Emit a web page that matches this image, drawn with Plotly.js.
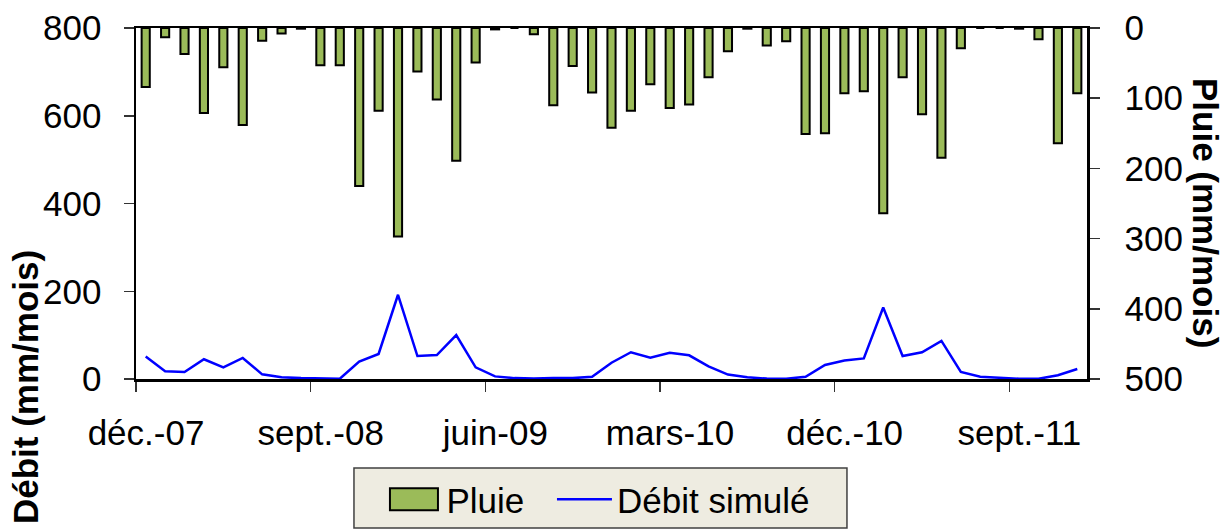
<!DOCTYPE html>
<html>
<head>
<meta charset="utf-8">
<script src="https://cdn.plot.ly/plotly-3.0.1.min.js"></script>
<style>
  html, body { margin: 0; padding: 0; background: #fff; }
  #chart { width: 1228px; height: 531px; }
</style>
</head>
<body>
<div id="chart"></div>
<script>
// Months (déc.-07 .. déc.-11)
const months = [
  "déc.-07","janv.-08","févr.-08","mars-08","avr.-08","mai-08","juin-08","juil.-08","août-08","sept.-08","oct.-08","nov.-08",
  "déc.-08","janv.-09","févr.-09","mars-09","avr.-09","mai-09","juin-09","juil.-09","août-09","sept.-09","oct.-09","nov.-09",
  "déc.-09","janv.-10","févr.-10","mars-10","avr.-10","mai-10","juin-10","juil.-10","août-10","sept.-10","oct.-10","nov.-10",
  "déc.-10","janv.-11","févr.-11","mars-11","avr.-11","mai-11","juin-11","juil.-11","août-11","sept.-11","oct.-11","nov.-11",
  "déc.-11"
];
// Rainfall (mm/month), right reversed axis
const pluie = [84,13,37,121,56,138,18,8,1,53,53,225,
               118,297,62,102,189,49,2,0,9,110,54,92,
               142,118,80,114,109,70,33,1,25,19,151,150,
               93,90,264,70,123,185,29,0,0,1,16,164,
               93];
// Simulated discharge (mm/month), left axis
const debit = [51,17.5,16,45,26.6,48,10.6,3.8,2,1,0.5,39.5,
               57,192,52.4,54.7,100,26.6,6,2,1,2,2,5,
               37,61,48.6,60,54,29,10,3.8,1,0.5,5,32,
               42,47,163,52.4,61,87,16,5,2,0.5,0.5,8.4,
               22.8];
const tickLabels = ["déc.-07","sept.-08","juin-09","mars-10","déc.-10","sept.-11"];

const xIdx = months.map((m, i) => i);
const tickPos = tickLabels.map(l => months.indexOf(l) - 0.5);

const FONT = "'Liberation Sans', Arial, sans-serif";
const BAR_COLOR = '#9BBB59';

const traces = [
  {
    type: 'bar', name: 'Pluie', x: xIdx, y: pluie, yaxis: 'y2',
    width: 0.42, legend: 'legend',
    marker: { color: BAR_COLOR, line: { color: '#000000', width: 2 } }
  },
  {
    type: 'scatter', mode: 'lines', name: 'Débit simulé', x: xIdx, y: debit, yaxis: 'y',
    legend: 'legend2',
    line: { color: '#0000FF', width: 2.5 }
  }
];

const legendCommon = {
  orientation: 'h', xanchor: 'left', y: -0.2593, yanchor: 'top',
  bgcolor: 'rgba(0,0,0,0)', borderwidth: 0,
  font: { family: FONT, size: 35, color: '#000' },
  itemwidth: 55
};

const layout = {
  width: 1228, height: 531,
  margin: { l: 136, r: 141, t: 28, b: 152, autoexpand: false },
  paper_bgcolor: '#ffffff', plot_bgcolor: '#ffffff',
  font: { family: FONT, size: 35, color: '#000' },
  showlegend: true,
  legend: Object.assign({}, legendCommon, { x: 0.2581 }),
  legend2: Object.assign({}, legendCommon, { x: 0.4374 }),
  shapes: [
    {
      type: 'rect', xref: 'paper', yref: 'paper',
      x0: 0.2292, x1: 0.7476, y0: -0.4245, y1: -0.2536,
      fillcolor: '#EEECE1', line: { color: '#404040', width: 1.5 }
    }
  ],
  xaxis: {
    range: [-0.5, months.length - 0.5],
    tickmode: 'array', tickvals: tickPos, ticktext: tickLabels,
    ticks: 'outside', ticklen: 10, tickwidth: 1.5, tickcolor: '#333',
    ticklabelshift: 10, ticklabelstandoff: 11,
    showline: true, linecolor: '#000', linewidth: 2.5, mirror: true,
    showgrid: false, zeroline: false,
    tickfont: { family: FONT, size: 35, color: '#000' }
  },
  yaxis: {
    range: [0, 800], tickmode: 'array', tickvals: [0,200,400,600,800],
    ticks: 'outside', ticklen: 10, tickwidth: 1.5, tickcolor: '#333',
    ticklabelstandoff: 15,
    showline: true, linecolor: '#000', linewidth: 2.5,
    showgrid: false, zeroline: false,
    tickfont: { family: FONT, size: 35, color: '#000' }
  },
  yaxis2: {
    overlaying: 'y', side: 'right',
    range: [500, 0], tickmode: 'array', tickvals: [0,100,200,300,400,500],
    ticks: 'outside', ticklen: 10, tickwidth: 1.5, tickcolor: '#333',
    ticklabelstandoff: 18,
    showline: true, linecolor: '#000', linewidth: 2.5,
    showgrid: false, zeroline: false,
    tickfont: { family: FONT, size: 35, color: '#000' }
  },
  annotations: [
    {
      text: '<b>Débit (mm/mois)</b>', textangle: -90,
      xref: 'paper', yref: 'paper', x: -0.1167, y: -0.0228,
      xanchor: 'center', yanchor: 'middle', showarrow: false,
      font: { family: FONT, size: 35, color: '#000' }
    },
    {
      text: '<b>Pluie (mm/mois)</b>', textangle: 90,
      xref: 'paper', yref: 'paper', x: 1.1241, y: 0.473,
      xanchor: 'center', yanchor: 'middle', showarrow: false,
      font: { family: FONT, size: 35, color: '#000' }
    }
  ]
};

function widenSwatch() {
  // the bar swatch is the filled path inside a legend's .legendpoints group
  document.querySelectorAll('.legendpoints path').forEach(p => {
    const fill = (p.style.fill || p.getAttribute('fill') || '').replace(/\s/g, '');
    if (fill === 'rgb(155,187,89)' || fill.toLowerCase() === BAR_COLOR.toLowerCase()) {
      p.setAttribute('d', 'M-24,-11H24V11H-24Z');
      p.style.strokeWidth = '2px';
    }
  });
}

Plotly.newPlot('chart', traces, layout, { displayModeBar: false, staticPlot: true }).then(() => {
  widenSwatch();
  setTimeout(widenSwatch, 50);
  setTimeout(widenSwatch, 300);
});
</script>
</body>
</html>
